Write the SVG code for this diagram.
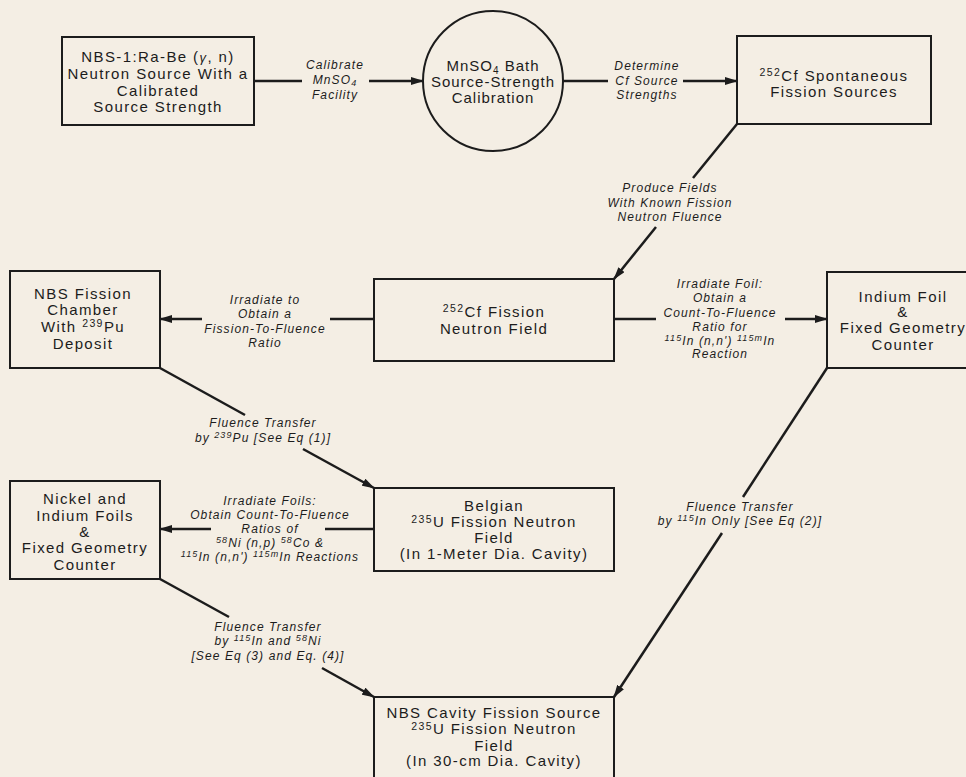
<svg xmlns="http://www.w3.org/2000/svg" width="966" height="777" viewBox="0 0 966 777">
<style>
.bg{fill:#f4eee4}
.box{fill:none;stroke:#1c1c1c;stroke-width:2}
.n{font-family:"Liberation Sans",Arial,sans-serif;font-size:15px;letter-spacing:1.4px;fill:#1c1c1c;text-anchor:middle}
.l{font-family:"Liberation Sans",Arial,sans-serif;font-size:12px;font-style:italic;letter-spacing:1.1px;fill:#1c1c1c;text-anchor:middle}
.c{fill:none;stroke:#1c1c1c;stroke-width:2.5}
.a{marker-end:url(#ah)}
</style>
<defs>
<marker id="ah" markerUnits="userSpaceOnUse" markerWidth="13" markerHeight="8" refX="12" refY="4" orient="auto"><path d="M0,0 L13,4 L0,8 z" fill="#1c1c1c"/></marker>
</defs>
<rect class="bg" x="0" y="0" width="966" height="777"/>

<g id="n1">
<rect class="box" x="62" y="37" width="192" height="88"/>
<text class="n" x="158" y="62">NBS-1:Ra-Be (<tspan font-style="italic" font-size="13">γ</tspan>, n)</text>
<text class="n" x="158" y="79">Neutron Source With a</text>
<text class="n" x="158" y="96">Calibrated</text>
<text class="n" x="158" y="112">Source Strength</text>
</g>

<g id="n2">
<circle class="box" cx="493" cy="81" r="70"/>
<text class="n" x="493" y="71" style="letter-spacing:1px">MnSO<tspan font-size="10" dy="3">4</tspan><tspan dy="-3"> Bath</tspan></text>
<text class="n" x="493" y="87" style="letter-spacing:1px">Source-Strength</text>
<text class="n" x="493" y="103" style="letter-spacing:1px">Calibration</text>
</g>

<g id="n3">
<rect class="box" x="737" y="36" width="194" height="88"/>
<text class="n" x="834" y="81"><tspan font-size="10.5" dy="-5">252</tspan><tspan dy="5">Cf Spontaneous</tspan></text>
<text class="n" x="834" y="97">Fission Sources</text>
</g>

<g id="n4">
<rect class="box" x="374" y="279" width="240" height="82"/>
<text class="n" x="494" y="317"><tspan font-size="10.5" dy="-5">252</tspan><tspan dy="5">Cf Fission</tspan></text>
<text class="n" x="494" y="334">Neutron Field</text>
</g>

<g id="n5">
<rect class="box" x="10" y="271" width="150" height="97"/>
<text class="n" x="83" y="299">NBS Fission</text>
<text class="n" x="83" y="315">Chamber</text>
<text class="n" x="83" y="332">With <tspan font-size="10.5" dy="-5">239</tspan><tspan dy="5">Pu</tspan></text>
<text class="n" x="83" y="349">Deposit</text>
</g>

<g id="n6">
<rect class="box" x="827" y="272" width="160" height="96"/>
<text class="n" x="903" y="302">Indium Foil</text>
<text class="n" x="903" y="317">&amp;</text>
<text class="n" x="903" y="333">Fixed Geometry</text>
<text class="n" x="903" y="350">Counter</text>
</g>

<g id="n7">
<rect class="box" x="374" y="488" width="240" height="83"/>
<text class="n" x="494" y="511">Belgian</text>
<text class="n" x="494" y="527"><tspan font-size="10.5" dy="-4">235</tspan><tspan dy="4">U Fission Neutron</tspan></text>
<text class="n" x="494" y="543">Field</text>
<text class="n" x="494" y="559">(In 1-Meter Dia. Cavity)</text>
</g>

<g id="n8">
<rect class="box" x="10" y="481" width="150" height="98"/>
<text class="n" x="85" y="504">Nickel and</text>
<text class="n" x="85" y="521">Indium Foils</text>
<text class="n" x="85" y="537">&amp;</text>
<text class="n" x="85" y="553">Fixed Geometry</text>
<text class="n" x="85" y="570">Counter</text>
</g>

<g id="n9">
<rect class="box" x="374" y="697" width="240" height="100"/>
<text class="n" x="494" y="718">NBS Cavity Fission Source</text>
<text class="n" x="494" y="734"><tspan font-size="10.5" dy="-4">235</tspan><tspan dy="4">U Fission Neutron</tspan></text>
<text class="n" x="494" y="751">Field</text>
<text class="n" x="494" y="766">(In 30-cm Dia. Cavity)</text>
</g>

<g id="connectors">
<path class="c" d="M254,81 H302"/>
<path class="c a" d="M369,81 H423"/>
<path class="c" d="M563,81 H608"/>
<path class="c a" d="M683,81 H737"/>
<path class="c" d="M737,124 L693,178"/>
<path class="c a" d="M656,227 L614,279"/>
<path class="c" d="M374,319 H330"/>
<path class="c a" d="M202,319 H160"/>
<path class="c" d="M614,319 H656"/>
<path class="c a" d="M785,319 H827"/>
<path class="c" d="M160,368 L245,415"/>
<path class="c a" d="M303,449 L374,488"/>
<path class="c" d="M374,529 H325"/>
<path class="c a" d="M211,529 H160"/>
<path class="c" d="M827,368 L743,497"/>
<path class="c a" d="M722,533 L614,697"/>
<path class="c" d="M160,579 L229,617"/>
<path class="c a" d="M322,668 L374,697"/>

<g id="labels">
<text class="l" x="335" y="69">Calibrate</text>
<text class="l" x="335" y="84">MnSO<tspan font-size="9" dy="2">4</tspan></text>
<text class="l" x="335" y="99">Facility</text>

<text class="l" x="647" y="70">Determine</text>
<text class="l" x="647" y="85">Cf Source</text>
<text class="l" x="647" y="99">Strengths</text>

<text class="l" x="670" y="192">Produce Fields</text>
<text class="l" x="670" y="207">With Known Fission</text>
<text class="l" x="670" y="221">Neutron Fluence</text>

<text class="l" x="265" y="304">Irradiate to</text>
<text class="l" x="265" y="318">Obtain a</text>
<text class="l" x="265" y="333">Fission-To-Fluence</text>
<text class="l" x="265" y="347">Ratio</text>

<text class="l" x="720" y="288">Irradiate Foil:</text>
<text class="l" x="720" y="302">Obtain a</text>
<text class="l" x="720" y="317">Count-To-Fluence</text>
<text class="l" x="720" y="331">Ratio for</text>
<text class="l" x="720" y="345"><tspan font-size="9" dy="-4">115</tspan><tspan dy="4">In (n,n') </tspan><tspan font-size="9" dy="-4">115m</tspan><tspan dy="4">In</tspan></text>
<text class="l" x="720" y="358">Reaction</text>

<text class="l" x="263" y="427">Fluence Transfer</text>
<text class="l" x="263" y="442">by <tspan font-size="9" dy="-4">239</tspan><tspan dy="4">Pu [See Eq  (1)]</tspan></text>

<text class="l" x="270" y="505">Irradiate Foils:</text>
<text class="l" x="270" y="519">Obtain Count-To-Fluence</text>
<text class="l" x="270" y="533">Ratios of</text>
<text class="l" x="270" y="547"><tspan font-size="9" dy="-4">58</tspan><tspan dy="4">Ni (n,p) </tspan><tspan font-size="9" dy="-4">58</tspan><tspan dy="4">Co &amp;</tspan></text>
<text class="l" x="270" y="561"><tspan font-size="9" dy="-4">115</tspan><tspan dy="4">In (n,n') </tspan><tspan font-size="9" dy="-4">115m</tspan><tspan dy="4">In Reactions</tspan></text>

<text class="l" x="740" y="511">Fluence Transfer</text>
<text class="l" x="740" y="525">by <tspan font-size="9" dy="-4">115</tspan><tspan dy="4">In Only [See Eq  (2)]</tspan></text>

<text class="l" x="268" y="631">Fluence Transfer</text>
<text class="l" x="268" y="645">by <tspan font-size="9" dy="-4">115</tspan><tspan dy="4">In and </tspan><tspan font-size="9" dy="-4">58</tspan><tspan dy="4">Ni</tspan></text>
<text class="l" x="268" y="660">[See Eq  (3) and Eq. (4)]</text>
</g>
</g>
</svg>
